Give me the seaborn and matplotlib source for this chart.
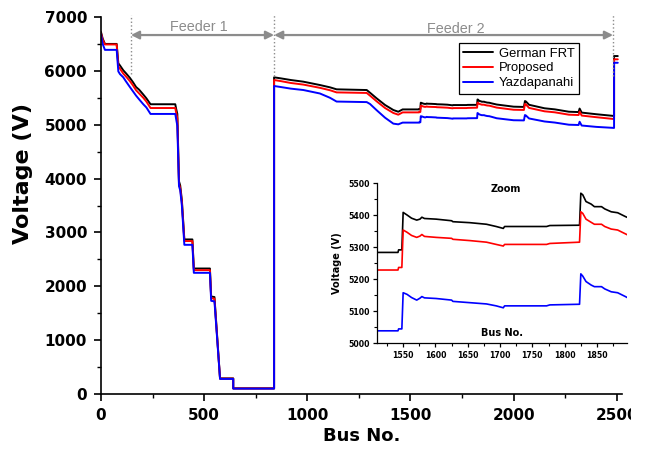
import matplotlib
matplotlib.use("Agg")
import matplotlib.pyplot as plt
from matplotlib.ticker import MultipleLocator
from matplotlib.transforms import Bbox
import numpy as np
import pandas as pd
import seaborn as sns

# Bus index (shared by all three voltage profiles)
bus = [
    0, 8, 19, 76, 84, 92, 108, 120, 140, 155,
    170, 185, 205, 220, 240, 360, 364, 370, 378, 384,
    392, 404, 443, 450, 528, 534, 550, 577, 641, 641,
    839, 839, 871, 920, 981, 1061, 1110, 1142, 1288, 1304,
    1336, 1377, 1417, 1441, 1462, 1510, 1542, 1543, 1548, 1550,
    1556, 1563, 1571, 1576, 1579, 1583, 1601, 1625, 1627, 1653,
    1679, 1694, 1705, 1707, 1772, 1777, 1823, 1825, 1828, 1833,
    1841, 1846, 1857, 1862, 1872, 1882, 1894, 1918, 2000, 2050,
    2055, 2060, 2075, 2150, 2200, 2268, 2315, 2320, 2330, 2400,
    2480, 2487, 2487, 2505,
]

v_german = [
    6720, 6600, 6500, 6500, 6140, 6100, 6010, 5960, 5870, 5790,
    5700, 5650, 5560, 5490, 5380, 5380, 5300, 5200, 3950, 3870,
    3600, 2870, 2870, 2330, 2330, 1810, 1800, 290, 290, 105,
    105, 5880, 5861, 5830, 5799, 5737, 5694, 5657, 5644, 5594,
    5490, 5366, 5273, 5241, 5284, 5284, 5284, 5292, 5292, 5409,
    5401, 5391, 5385, 5388, 5394, 5390, 5388, 5383, 5380, 5377,
    5372, 5365, 5359, 5365, 5365, 5368, 5369, 5469, 5464, 5443,
    5435, 5427, 5427, 5420, 5411, 5408, 5396, 5375, 5335, 5330,
    5440, 5430, 5370, 5305, 5285, 5241, 5235, 5300, 5225, 5195,
    5165, 5160, 6275, 6275,
]

v_proposed = [
    6700, 6580, 6490, 6490, 6080, 6040, 5950, 5900, 5810, 5730,
    5640, 5580, 5500, 5430, 5310, 5310, 5230, 5120, 3900, 3820,
    3560, 2840, 2840, 2300, 2300, 1780, 1770, 285, 285, 103,
    103, 5830, 5810, 5775, 5745, 5685, 5640, 5600, 5590, 5540,
    5435, 5310, 5218, 5186, 5229, 5229, 5229, 5237, 5237, 5354,
    5347, 5337, 5331, 5335, 5340, 5334, 5331, 5328, 5325, 5321,
    5316, 5309, 5304, 5309, 5309, 5312, 5316, 5411, 5406, 5388,
    5378, 5372, 5372, 5365, 5357, 5354, 5342, 5318, 5278, 5274,
    5385, 5375, 5312, 5249, 5230, 5186, 5180, 5245, 5170, 5140,
    5108, 5104, 6214, 6214,
]

v_yazdapanahi = [
    6680, 6500, 6390, 6390, 5990, 5940, 5880, 5810, 5700, 5620,
    5540, 5470, 5380, 5320, 5200, 5200, 5110, 4980, 3860, 3780,
    3500, 2770, 2770, 2250, 2250, 1730, 1720, 280, 280, 100,
    100, 5719, 5700, 5670, 5644, 5580, 5500, 5430, 5420, 5385,
    5270, 5130, 5020, 5007, 5039, 5039, 5039, 5045, 5045, 5158,
    5153, 5143, 5135, 5141, 5146, 5142, 5140, 5135, 5131, 5127,
    5123, 5117, 5111, 5117, 5117, 5120, 5122, 5217, 5210, 5193,
    5182, 5177, 5177, 5170, 5161, 5158, 5146, 5120, 5083, 5080,
    5180, 5170, 5116, 5060, 5040, 5000, 4995, 5055, 4985, 4960,
    4942, 4940, 6150, 6150,
]

series_names = ["German FRT", "Proposed", "Yazdapanahi"]
series_colors = ["black", "red", "blue"]

# Feeder boundaries (bus numbers) and label placement
feeder_bounds = [145, 839, 2482]
feeder_labels = ["Feeder 1", "Feeder 2"]
feeder_label_bus = [475, 1720]

df = pd.concat(
    [
        pd.DataFrame({"Bus": bus, "Voltage": v, "Method": name})
        for name, v in zip(series_names, [v_german, v_proposed, v_yazdapanahi])
    ],
    ignore_index=True,
)
palette = dict(zip(series_names, series_colors))

sns.set_style("ticks")
plt.rcParams.update({
    "font.family": ["DejaVu Sans"],
    "font.weight": "bold",
    "text.color": "black",
    "axes.labelcolor": "black",
    "axes.edgecolor": "black",
    "xtick.color": "black",
    "ytick.color": "black",
})

W, H = 651, 449
fig = plt.figure(figsize=(W / 100, H / 100), dpi=100)

# ---- main axes ----
x0, x1, ytop, ybot = 101, 621.7, 17, 394
ax = fig.add_axes([x0 / W, 1 - ybot / H, (x1 - x0) / W, (ybot - ytop) / H])
sns.lineplot(data=df, x="Bus", y="Voltage", hue="Method", palette=palette,
             estimator=None, sort=False, lw=1.4, ax=ax)
ax.set_xlim(0, 2524)
ax.set_ylim(0, 7000)
sns.despine(ax=ax)
for s in ("left", "bottom"):
    ax.spines[s].set_linewidth(1.2)
ax.xaxis.set_major_locator(MultipleLocator(500))
ax.xaxis.set_minor_locator(MultipleLocator(250))
ax.yaxis.set_major_locator(MultipleLocator(1000))
ax.yaxis.set_minor_locator(MultipleLocator(500))
ax.tick_params(which="major", direction="out", length=5, width=1.2, labelsize=11, pad=5)
ax.tick_params(which="minor", direction="out", length=3, width=1.0)
ax.set_xlabel("Bus No.", fontsize=13, fontweight="bold", labelpad=3)
ax.set_ylabel("Voltage (V)", fontsize=16, fontweight="bold")
ax.yaxis.set_label_coords(-0.13, 0.585)

# the figure is trimmed at the right, cutting into the last tick label
trim = Bbox.from_extents(0, 0, 631, H)
for lbl in ax.get_xticklabels():
    lbl.set_clip_on(True)
    lbl.set_clip_box(trim)

leg = ax.legend(loc="upper right", bbox_to_anchor=(0.918, 0.931), frameon=True,
                fancybox=False, edgecolor="black", framealpha=1, borderaxespad=0,
                handlelength=2.3, handletextpad=0.4, labelspacing=0.2, borderpad=0.35,
                prop={"family": "Liberation Sans", "weight": "normal", "size": 9.4})
leg.get_frame().set_linewidth(0.9)
for h in leg.get_lines():
    h.set_linewidth(1.4)
leg.set_title(None)

# feeder brackets
gray = "#8c8c8c"
ax.plot([feeder_bounds[0]] * 2, [5950, 7040], ls=":", color=gray, lw=1.0, clip_on=False)
ax.plot([feeder_bounds[1]] * 2, [5900, 7040], ls=":", color=gray, lw=1.0, clip_on=False)
ax.plot([feeder_bounds[2]] * 2, [5900, 7040], ls=":", color=gray, lw=1.0, clip_on=False)
arrow_v = 6665
for (a, b), lbl, lx, ty in zip([(feeder_bounds[0], feeder_bounds[1]),
                                (feeder_bounds[1], feeder_bounds[2])],
                               feeder_labels, feeder_label_bus, [6745, 6697]):
    ax.annotate("", xy=(b, arrow_v), xytext=(a, arrow_v),
                arrowprops=dict(arrowstyle="<|-|>", color=gray, lw=1.6,
                                mutation_scale=12, shrinkA=0, shrinkB=0))
    ax.text(lx, ty, lbl, ha="center", va="baseline", color=gray,
            fontsize=10.4, family="Liberation Sans", fontweight="normal")

# ---- zoom inset ----
ix0, ix1, iytop, iybot = 377.3, 626.7, 183.3, 343.3
axin = fig.add_axes([ix0 / W, 1 - iybot / H, (ix1 - ix0) / W, (iybot - iytop) / H])
sns.lineplot(data=df, x="Bus", y="Voltage", hue="Method", palette=palette,
             estimator=None, sort=False, lw=1.2, ax=axin, legend=False)
axin.set_xlim(1510, 1896)
axin.set_ylim(5000, 5500)
sns.despine(ax=axin)
for s in ("left", "bottom"):
    axin.spines[s].set_linewidth(0.9)
axin.patch.set_alpha(0)
axin.xaxis.set_minor_locator(MultipleLocator(25))
axin.yaxis.set_major_locator(MultipleLocator(100))
axin.yaxis.set_minor_locator(MultipleLocator(50))
axin.set_xticks([1550, 1600, 1650, 1700, 1750, 1800, 1850])
axin.tick_params(which="major", direction="out", length=3, width=0.9, labelsize=5.6, pad=2.5)
axin.tick_params(which="minor", direction="out", length=2, width=0.8)
axin.set_xlabel("")
axin.set_ylabel("Voltage (V)", fontsize=7, fontweight="bold", labelpad=4)
axin.text(0.516, 0.9625, "Zoom", transform=axin.transAxes, ha="center", va="center",
          fontsize=7, fontweight="bold")
axin.text(0.5, 0.066, "Bus No.", transform=axin.transAxes, ha="center", va="center",
          fontsize=7, fontweight="bold")

fig.savefig("out.png", dpi=100)
